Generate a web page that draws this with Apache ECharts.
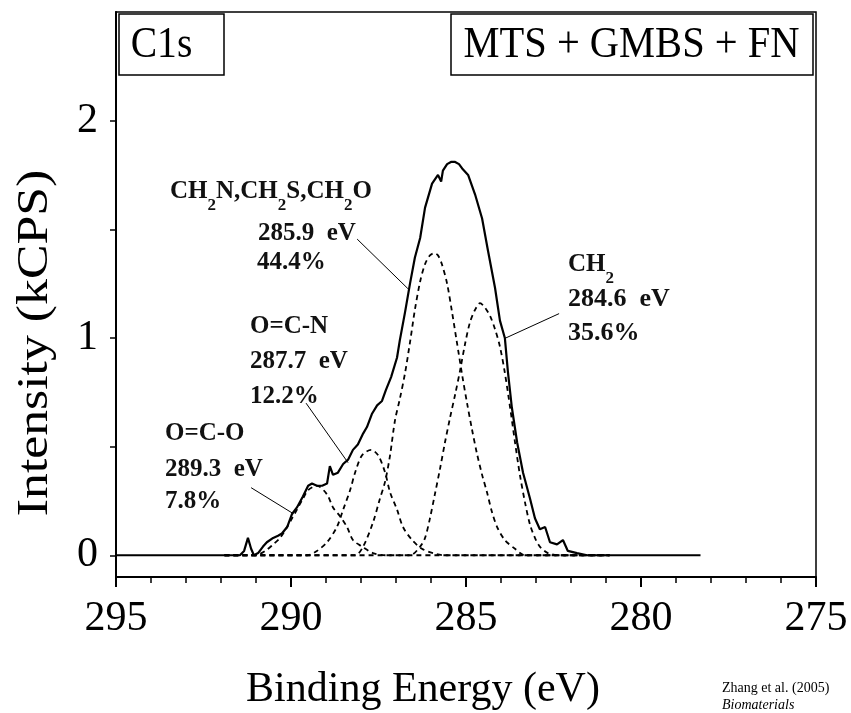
<!DOCTYPE html>
<html>
<head>
<meta charset="utf-8">
<script src="https://cdn.jsdelivr.net/npm/echarts@6/dist/echarts.min.js"></script>
<style>
html,body{margin:0;padding:0;background:#fff;}
#c{width:851px;height:713px;}
</style>
</head>
<body>
<div id="c"></div>
<script>
// ---- data (binding energy eV, intensity kCPS) ----
const xTicks = [295, 290, 285, 280, 275];
const yTickLabels = [0, 1, 2];
const yTickMarks = [0, 0.5, 1, 1.5, 2];

const envelope = [[295.0,0],[292.6,0],[291.46,0],[291.34,0.02],[291.23,0.08],[291.14,0.03],[291.06,0.0],[290.94,0.01],[290.8,0.04],[290.69,0.06],[290.51,0.08],[290.37,0.09],[290.26,0.10],[290.11,0.13],[289.97,0.19],[289.83,0.22],[289.66,0.27],[289.51,0.32],[289.4,0.33],[289.26,0.32],[289.11,0.32],[288.97,0.33],[288.89,0.41],[288.8,0.37],[288.66,0.38],[288.51,0.42],[288.37,0.44],[288.23,0.485],[288.09,0.51],[287.94,0.56],[287.83,0.59],[287.69,0.65],[287.54,0.69],[287.4,0.71],[287.29,0.76],[287.14,0.82],[286.97,0.91],[286.89,0.99],[286.74,1.12],[286.6,1.25],[286.46,1.37],[286.31,1.46],[286.17,1.60],[285.97,1.71],[285.8,1.75],[285.71,1.72],[285.66,1.77],[285.54,1.80],[285.43,1.81],[285.31,1.81],[285.2,1.80],[285.11,1.78],[284.94,1.75],[284.74,1.66],[284.54,1.55],[284.37,1.40],[284.17,1.23],[284.03,1.08],[283.89,1.00],[283.8,0.84],[283.69,0.68],[283.54,0.52],[283.37,0.38],[283.17,0.26],[283.03,0.17],[282.89,0.12],[282.74,0.13],[282.6,0.06],[282.4,0.05],[282.23,0.07],[282.09,0.02],[281.83,0.01],[281.54,0.0],[278.3,0.0]];

const compCH2 = [[291.9,0],[286.6,0],[286.31,0.04],[286.17,0.08],[286.03,0.17],[285.89,0.28],[285.74,0.40],[285.6,0.52],[285.46,0.63],[285.31,0.74],[285.17,0.85],[285.03,0.97],[284.89,1.07],[284.74,1.13],[284.6,1.16],[284.46,1.14],[284.31,1.10],[284.17,1.04],[284.03,0.96],[283.89,0.84],[283.74,0.68],[283.6,0.52],[283.46,0.37],[283.31,0.24],[283.17,0.14],[283.03,0.08],[282.89,0.04],[282.66,0.01],[282.3,0],[280.9,0]];

const compCH2N = [[291.9,0],[288.17,0],[287.94,0.04],[287.66,0.15],[287.46,0.26],[287.31,0.34],[287.17,0.46],[287.03,0.62],[286.89,0.72],[286.74,0.84],[286.6,0.98],[286.46,1.13],[286.31,1.26],[286.17,1.34],[286.03,1.38],[285.91,1.39],[285.8,1.38],[285.69,1.34],[285.54,1.25],[285.4,1.12],[285.26,0.98],[285.11,0.83],[284.97,0.70],[284.83,0.58],[284.69,0.47],[284.54,0.37],[284.4,0.29],[284.26,0.20],[284.11,0.13],[283.89,0.07],[283.6,0.03],[283.31,0],[280.9,0]];

const compOCN = [[291.9,0],[289.54,0],[289.26,0.02],[288.97,0.06],[288.69,0.13],[288.51,0.21],[288.31,0.30],[288.17,0.38],[287.97,0.46],[287.71,0.485],[287.51,0.46],[287.31,0.38],[287.17,0.29],[286.97,0.21],[286.8,0.13],[286.54,0.07],[286.26,0.03],[285.94,0.01],[285.6,0],[280.9,0]];

const compOCO = [[291.9,0],[291.03,0],[290.74,0.02],[290.51,0.05],[290.31,0.08],[290.11,0.13],[289.97,0.17],[289.83,0.21],[289.66,0.26],[289.51,0.30],[289.26,0.32],[288.97,0.28],[288.8,0.22],[288.6,0.18],[288.4,0.13],[288.23,0.07],[287.97,0.04],[287.66,0.01],[287.31,0],[280.9,0]];

// annotation arrows: [from, to] in data coordinates
const arrows = [
  [[288.11,1.455],[286.66,1.227]],
  [[289.57,0.70],[288.37,0.426]],
  [[291.14,0.311],[289.94,0.192]],
  [[282.34,1.112],[283.89,0.998]]
];

const SERIF = '"Liberation Serif","Times New Roman",serif';

const chart = echarts.init(document.getElementById('c'), null, {renderer:'canvas'});

const dashStyle = {color:'#000', width:1.8, type:[5,4]};
function comp(data){
  return {type:'line', data:data, showSymbol:false, smooth:0.3, lineStyle:dashStyle, z:2};
}

const FS = 25;
const bText = {fontFamily:SERIF, fontWeight:'bold', fontSize:FS, fill:'#111', lineHeight:26, verticalAlign:'top'};
const subText = {fontFamily:SERIF, fontWeight:'bold', fontSize:17, fill:'#111', lineHeight:35, verticalAlign:'bottom'};

function label(x, y, txt, fs){
  return {type:'text', x:x, y:y+2, style:{text:txt, fontFamily:SERIF, fontWeight:'bold', fontSize:fs||FS, fill:'#111', verticalAlign:'middle'}};
}
function subLabel(x, yc, txt){
  return {type:'text', x:x, y:yc-10, style:{text:txt, rich:{b:bText, s:subText}, verticalAlign:'top'}};
}

const option = {
  animation:false,
  backgroundColor:'#fff',
  grid:{left:116, right:35, top:12, bottom:136, show:true, borderColor:'#000', borderWidth:1.5, backgroundColor:'transparent'},
  xAxis:{
    type:'value', min:275, max:295, interval:5, inverse:true,
    axisLine:{show:true, onZero:false, lineStyle:{color:'#000', width:2}},
    axisTick:{show:true, inside:false, length:10, lineStyle:{color:'#000', width:2}},
    minorTick:{show:true, splitNumber:5, length:6, lineStyle:{color:'#000', width:1.5}},
    axisLabel:{fontFamily:SERIF, fontSize:42, color:'#000', margin:21, formatter:(v)=> xTicks.indexOf(v)>=0 ? String(v) : ''},
    splitLine:{show:false}, minorSplitLine:{show:false}
  },
  yAxis:{
    type:'value', min:-0.1, max:2.5,
    axisLine:{show:true, onZero:false, lineStyle:{color:'#000', width:2}},
    axisTick:{show:true, inside:false, length:6, customValues:yTickMarks, lineStyle:{color:'#000', width:1.5}},
    axisLabel:{fontFamily:SERIF, fontSize:42, color:'#000', margin:18, customValues:yTickLabels, formatter:(v)=>String(v)},
    splitLine:{show:false}
  },
  series:[
    comp(compOCO), comp(compOCN), comp(compCH2N), comp(compCH2),
    {type:'line', data:envelope, showSymbol:false, lineStyle:{color:'#000', width:2.2}, z:3,
     markLine:{silent:true, symbol:['none','arrow'], symbolSize:[0,10], animation:false,
       lineStyle:{color:'#000', width:1, type:'solid'}, label:{show:false},
       data: arrows.map(a=>[{coord:a[0]},{coord:a[1]}])}
    }
  ],
  graphic:[
    {type:'rect', shape:{x:119, y:14, width:105, height:61}, style:{fill:'#fff', stroke:'#000', lineWidth:1.5}, z:10},
    {type:'text', x:161.5, y:45, scaleX:0.88, style:{text:'C1s', fontFamily:SERIF, fontSize:45, fill:'#000', align:'center', verticalAlign:'middle'}, z:11},
    {type:'rect', shape:{x:451, y:14, width:362, height:61}, style:{fill:'#fff', stroke:'#000', lineWidth:1.5}, z:10},
    {type:'text', x:631.5, y:45, scaleX:0.9, style:{text:'MTS + GMBS + FN', fontFamily:SERIF, fontSize:45, fill:'#000', align:'center', verticalAlign:'middle'}, z:11},
    subLabel(170, 189, '{b|CH}{s|2}{b|N,CH}{s|2}{b|S,CH}{s|2}{b|O}'),
    label(258, 232, '285.9  eV'),
    label(257, 261, '44.4%'),
    label(250, 325, 'O=C-N'),
    label(250, 360, '287.7  eV'),
    label(250, 395, '12.2%'),
    label(165, 432, 'O=C-O'),
    label(165, 468, '289.3  eV'),
    label(165, 500, '7.8%'),
    subLabel(568, 262, '{b|CH}{s|2}'),
    label(568, 297, '284.6  eV', 26),
    label(568, 331, '35.6%', 26),
    {type:'text', x:35, y:343, rotation:Math.PI/2, scaleX:1.15, style:{text:'Intensity (kCPS)', fontFamily:SERIF, fontSize:45, fill:'#000', align:'center', verticalAlign:'middle'}},
    {type:'text', x:423, y:690, style:{text:'Binding Energy (eV)', fontFamily:SERIF, fontSize:42, fill:'#000', align:'center', verticalAlign:'middle'}},
    {type:'text', x:722, y:688, style:{text:'Zhang et al. (2005)', fontFamily:SERIF, fontSize:14, fill:'#000', align:'left', verticalAlign:'middle'}},
    {type:'text', x:722, y:705, style:{text:'Biomaterials', fontFamily:SERIF, fontStyle:'italic', fontSize:14, fill:'#000', align:'left', verticalAlign:'middle'}}
  ]
};
chart.setOption(option);
</script>
</body>
</html>
